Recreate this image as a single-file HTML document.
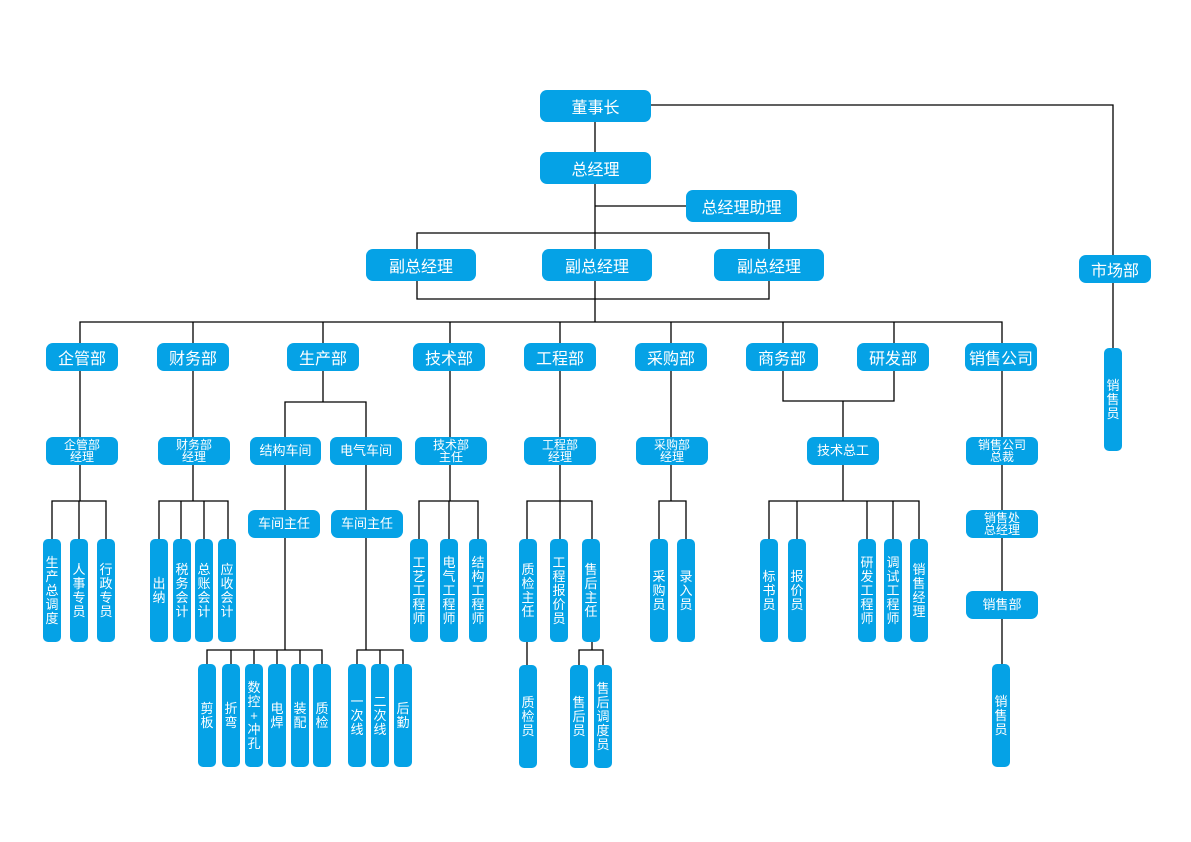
<!DOCTYPE html>
<html><head><meta charset="utf-8">
<style>
body{margin:0;width:1191px;height:842px;background:#fff;position:relative;overflow:hidden;font-family:"Liberation Sans","Noto Sans CJK SC",sans-serif}
.b{position:absolute;background:#05a2e6;color:#fff;border-radius:7px;display:flex;align-items:center;justify-content:center;text-align:center;white-space:nowrap}
.t{font-size:16px;height:32px;width:111px}
.d{font-size:16px;height:28px;width:72px;top:343px}
.s{font-size:12px;line-height:12px;height:28px;width:72px;top:437px}
.v{position:absolute;background:#05a2e6;color:#fff;border-radius:5px;width:18px;display:flex;align-items:center;justify-content:center}
.v span{display:block;width:13px;font-size:13px;line-height:14px;word-break:break-all;text-align:center}
.r1{top:539px;height:103px}
.r2{top:664px;height:103px}
svg{position:absolute;left:0;top:0}
</style></head><body>
<svg width="1191" height="842" fill="none" stroke="#000" stroke-width="1.3">
<path d="M595 122V152M651 105H1113V255M1113 283V348M595 184V299M595 206H686M417 249V233H769V249M417 281V299H769V281M595 299V322M80 343V322H1002V343M193 322V343M323 322V343M450 322V343M560 322V343M671 322V343M783 322V343M894 322V343"/>
<path d="M80 371V437M80 465V501M52 539V501H106V539M79 501V539"/>
<path d="M193 371V437M193 465V501M159 539V501H228V539M181 501V539M204 501V539"/>
<path d="M323 371V402M285 437V402H366V437M285 465V510M366 465V510M285 538V650M207 664V650H322V664M231 650V664M254 650V664M277 650V664M300 650V664M366 538V650M357 664V650H403V664M380 650V664"/>
<path d="M450 371V437M450 465V501M419 539V501H478V539M449 501V539"/>
<path d="M560 371V437M560 465V501M527 539V501H592V539M560 501V539M527 642V665M592 642V650M579 665V650H603V665"/>
<path d="M671 371V437M671 465V501M659 539V501H686V539"/>
<path d="M783 371V401H894V371M843 401V437M843 465V501M769 539V501H919V539M797 501V539M867 501V539M893 501V539"/>
<path d="M1002 371V437M1002 465V510M1002 538V591M1002 619V664"/>
</svg>
<div class="b t" style="left:540px;top:90px">董事长</div>
<div class="b t" style="left:540px;top:152px">总经理</div>
<div class="b t" style="left:686px;top:190px">总经理助理</div>
<div class="b t" style="left:366px;top:249px;width:110px">副总经理</div>
<div class="b t" style="left:542px;top:249px;width:110px">副总经理</div>
<div class="b t" style="left:714px;top:249px;width:110px">副总经理</div>
<div class="b d" style="left:1079px;top:255px">市场部</div>
<div class="b d" style="left:46px">企管部</div>
<div class="b d" style="left:157px">财务部</div>
<div class="b d" style="left:287px">生产部</div>
<div class="b d" style="left:413px">技术部</div>
<div class="b d" style="left:524px">工程部</div>
<div class="b d" style="left:635px">采购部</div>
<div class="b d" style="left:746px">商务部</div>
<div class="b d" style="left:857px">研发部</div>
<div class="b d" style="left:965px">销售公司</div>
<div class="b s" style="left:46px">企管部<br>经理</div>
<div class="b s" style="left:158px">财务部<br>经理</div>
<div class="b s" style="left:250px;width:71px;font-size:13px">结构车间</div>
<div class="b s" style="left:330px;font-size:13px">电气车间</div>
<div class="b s" style="left:415px">技术部<br>主任</div>
<div class="b s" style="left:524px">工程部<br>经理</div>
<div class="b s" style="left:636px">采购部<br>经理</div>
<div class="b s" style="left:807px;font-size:13px">技术总工</div>
<div class="b s" style="left:966px">销售公司<br>总裁</div>
<div class="b s" style="left:248px;top:510px;font-size:13px">车间主任</div>
<div class="b s" style="left:331px;top:510px;font-size:13px">车间主任</div>
<div class="b s" style="left:966px;top:510px">销售处<br>总经理</div>
<div class="b s" style="left:966px;top:591px;font-size:13px">销售部</div>
<div class="v" style="left:1104px;top:348px;height:103px"><span>销售员</span></div>
<div class="v r1" style="left:43px"><span>生产总调度</span></div>
<div class="v r1" style="left:70px"><span>人事专员</span></div>
<div class="v r1" style="left:97px"><span>行政专员</span></div>
<div class="v r1" style="left:150px"><span>出纳</span></div>
<div class="v r1" style="left:173px"><span>税务会计</span></div>
<div class="v r1" style="left:195px"><span>总账会计</span></div>
<div class="v r1" style="left:218px"><span>应收会计</span></div>
<div class="v r1" style="left:410px"><span>工艺工程师</span></div>
<div class="v r1" style="left:440px"><span>电气工程师</span></div>
<div class="v r1" style="left:469px"><span>结构工程师</span></div>
<div class="v r1" style="left:519px"><span>质检主任</span></div>
<div class="v r1" style="left:550px"><span>工程报价员</span></div>
<div class="v r1" style="left:582px"><span>售后主任</span></div>
<div class="v r1" style="left:650px"><span>采购员</span></div>
<div class="v r1" style="left:677px"><span>录入员</span></div>
<div class="v r1" style="left:760px"><span>标书员</span></div>
<div class="v r1" style="left:788px"><span>报价员</span></div>
<div class="v r1" style="left:858px"><span>研发工程师</span></div>
<div class="v r1" style="left:884px"><span>调试工程师</span></div>
<div class="v r1" style="left:910px"><span>销售经理</span></div>
<div class="v r2" style="left:198px"><span>剪板</span></div>
<div class="v r2" style="left:222px"><span>折弯</span></div>
<div class="v r2" style="left:245px"><span>数控<br>+<br>冲孔</span></div>
<div class="v r2" style="left:268px"><span>电焊</span></div>
<div class="v r2" style="left:291px"><span>装配</span></div>
<div class="v r2" style="left:313px"><span>质检</span></div>
<div class="v r2" style="left:348px"><span>一次线</span></div>
<div class="v r2" style="left:371px"><span>二次线</span></div>
<div class="v r2" style="left:394px"><span>后勤</span></div>
<div class="v r2" style="left:519px;top:665px"><span>质检员</span></div>
<div class="v r2" style="left:570px;top:665px"><span>售后员</span></div>
<div class="v r2" style="left:594px;top:665px"><span>售后调度员</span></div>
<div class="v r2" style="left:992px"><span>销售员</span></div>
</body></html>
